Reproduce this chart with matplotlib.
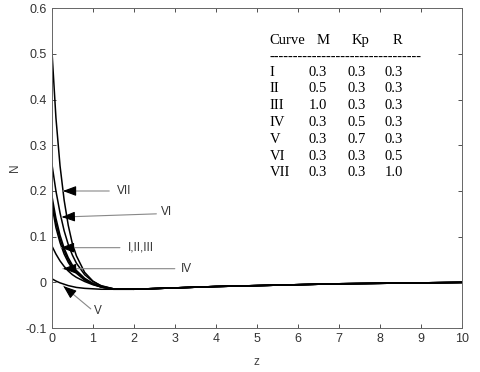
import numpy as np
import matplotlib.pyplot as plt

plt.rcParams['font.family'] = ['Liberation Sans', 'DejaVu Sans']

# data
z = [0, 0.1, 0.2, 0.3, 0.4, 0.5, 0.6, 0.8, 1.0, 1.2, 1.5, 2, 3, 4, 5, 6, 7, 8, 9, 10]
tail = [-0.015, -0.012, -0.009, -0.007, -0.005, -0.003, -0.002, -0.001, 0.0]

N_I = [0.19, 0.14, 0.103, 0.075, 0.054, 0.038, 0.026, 0.009, -0.002, -0.009, -0.014] + tail
N_II = [0.18, 0.13, 0.095, 0.069, 0.049, 0.034, 0.023, 0.007, -0.003, -0.010, -0.015] + tail
N_III = [0.17, 0.12, 0.087, 0.062, 0.044, 0.030, 0.020, 0.005, -0.004, -0.010, -0.015] + tail
N_IV = [0.08, 0.062, 0.047, 0.035, 0.025, 0.017, 0.011, 0.002, -0.005, -0.010, -0.015] + tail
N_V = [0.008, 0.003, -0.001, -0.004, -0.007, -0.009, -0.011, -0.013, -0.014, -0.015, -0.015] + tail
N_VI = [0.26, 0.20, 0.152, 0.113, 0.083, 0.060, 0.042, 0.017, 0.002, -0.007, -0.014] + tail
N_VII = [0.51, 0.36, 0.255, 0.18, 0.125, 0.085, 0.058, 0.022, 0.003, -0.008, -0.014] + tail

curves = ['I', 'II', 'III', 'IV', 'V', 'VI', 'VII']
M_vals = ['0.3', '0.5', '1.0', '0.3', '0.3', '0.3', '0.3']
Kp_vals = ['0.3', '0.3', '0.3', '0.5', '0.7', '0.3', '0.3']
R_vals = ['0.3', '0.3', '0.3', '0.3', '0.3', '0.5', '1.0']

fig = plt.figure(figsize=(4.8, 3.72), dpi=100)
ax = fig.add_axes([0.108, 0.118, 0.854, 0.860])

for n in [N_I, N_II, N_III, N_IV, N_V, N_VI, N_VII]:
    ax.plot(z, n, color='black', lw=1.1)

ax.set_xlim(0, 10)
ax.set_ylim(-0.1, 0.6)
ax.set_xticks(range(0, 11))
ax.set_yticks(np.arange(-0.1, 0.61, 0.1))
ax.set_yticklabels(['-0.1', '0', '0.1', '0.2', '0.3', '0.4', '0.5', '0.6'])
ax.tick_params(direction='in', top=True, right=True, labelsize=9, colors='#333333',
               length=3, width=0.6)
for s in ax.spines.values():
    s.set_color('#666666')
    s.set_linewidth(0.7)
ax.set_xlabel('z', fontsize=8.5, color='#444444', labelpad=8)
ax.set_ylabel('N', fontsize=8.5, color='#444444', labelpad=3)

# arrows with labels: gray shaft, black head
shaft = dict(arrowstyle='-', color='#888888', lw=0.8, shrinkA=0, shrinkB=0)
head = dict(arrowstyle='-|>,head_length=0.8,head_width=0.3', color='black', lw=0.8,
            shrinkA=0, shrinkB=0)
def label(txt, tip, tail_pt, txt_pt):
    ax.annotate('', xy=tip, xytext=tail_pt, arrowprops=shaft)
    dx = tail_pt[0] - tip[0]
    dy = tail_pt[1] - tip[1]
    d = np.hypot(dx / 10.0, dy / 0.7)
    f = 0.025 / d
    ax.annotate('', xy=tip, xytext=(tip[0] + dx * f, tip[1] + dy * f), arrowprops=head)
    ax.text(txt_pt[0], txt_pt[1], txt, fontsize=8.5, color='#333333', ha='left', va='center')

label('VII', (0.27, 0.200), (1.4, 0.200), (1.6, 0.200))
label('VI', (0.24, 0.143), (2.55, 0.150), (2.65, 0.153))
label('I,II,III', (0.22, 0.076), (1.66, 0.076), (1.85, 0.076))
label('IV', (0.27, 0.030), (3.0, 0.030), (3.15, 0.030))
label('V', (0.28, -0.008), (0.95, -0.058), (1.03, -0.062))

# parameter table
fs = 10.5
ff = 'Liberation Serif'
px = lambda x: (x - 52) / 41.0
py = lambda y: (282.3 - y) / 457.0
ax.text(px(270), py(40), 'Curve', fontsize=fs, family=ff, va='center')
ax.text(px(317), py(40), 'M', fontsize=fs, family=ff, va='center')
ax.text(px(352), py(40), 'Kp', fontsize=fs, family=ff, va='center')
ax.text(px(393), py(40), 'R', fontsize=fs, family=ff, va='center')
ax.text(px(270), py(57), '-' * 32, fontsize=fs, family=ff, va='center')
for i, c in enumerate(curves):
    y = py(72 + 16.8 * i)
    ax.text(px(270), y, c, fontsize=fs, family=ff, va='center')
    ax.text(px(309), y, M_vals[i], fontsize=fs, family=ff, va='center')
    ax.text(px(348), y, Kp_vals[i], fontsize=fs, family=ff, va='center')
    ax.text(px(385), y, R_vals[i], fontsize=fs, family=ff, va='center')

fig.savefig('out.png', dpi=100)
